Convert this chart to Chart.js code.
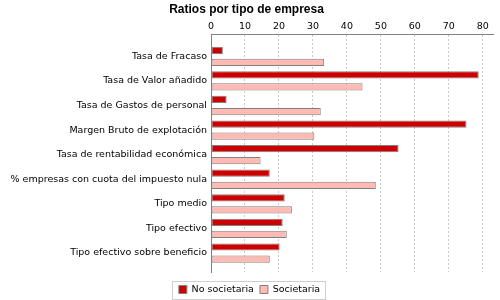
<!DOCTYPE html>
<html>
<head>
<meta charset="utf-8">
<script src="https://cdn.jsdelivr.net/npm/chart.js@4"></script>
<style>
html,body{margin:0;padding:0;background:#fff;}
#wrap{width:500px;height:300px;}
</style>
</head>
<body>
<div id="wrap"><canvas id="c" width="500" height="300"></canvas></div>
<script>
const categories = [
  "Tasa de Fracaso",
  "Tasa de Valor añadido",
  "Tasa de Gastos de personal",
  "Margen Bruto de explotación",
  "Tasa de rentabilidad económica",
  "% empresas con cuota del impuesto nula",
  "Tipo medio",
  "Tipo efectivo",
  "Tipo efectivo sobre beneficio"
];
const noSocietaria = [3.5, 78.8, 4.6, 75.2, 55.2, 17.3, 21.7, 21.1, 20.2];
const societaria   = [33.3, 44.6, 32.3, 30.4, 14.6, 48.5, 23.8, 22.3, 17.3];
const seriesNames = ["No societaria", "Societaria"];
const xTicks = [0, 10, 20, 30, 40, 50, 60, 70, 80];
const titleText = "Ratios por tipo de empresa";

const legendFrame = {
  id: 'legendFrame',
  afterLayout(chart) {
    const lg = chart.legend;
    if (lg) { lg.left += 3; lg.right += 3; }
  },
  afterDraw(chart) {
    const lg = chart.legend;
    if (!lg || !lg.legendHitBoxes || !lg.legendHitBoxes.length) return;
    const hb = lg.legendHitBoxes;
    const first = hb[0], last = hb[hb.length - 1];
    const cy = first.top + first.height / 2;
    const x1 = Math.round(first.left - 7) + 0.5;
    const x2 = Math.round(last.left + last.width + 5) + 0.5;
    const y1 = Math.round(cy - 9) + 0.5;
    const y2 = Math.round(cy + 9) + 0.5;
    const ctx = chart.ctx;
    ctx.save();
    ctx.strokeStyle = '#cfcfcf';
    ctx.lineWidth = 1;
    ctx.strokeRect(x1, y1, x2 - x1, y2 - y1);
    ctx.restore();
  }
};

const ctx = document.getElementById('c').getContext('2d');
new Chart(ctx, {
  type: 'bar',
  data: {
    labels: categories,
    datasets: [
      { label: seriesNames[0], data: noSocietaria, backgroundColor: '#cc0000', borderColor: '#808080', borderWidth: 1, borderSkipped: false },
      { label: seriesNames[1], data: societaria, backgroundColor: '#ffbbb3', borderColor: '#808080', borderWidth: 1, borderSkipped: false }
    ]
  },
  options: {
    indexAxis: 'y',
    responsive: false,
    animation: false,
    devicePixelRatio: 1,
    layout: { padding: { left: 0, right: 7, top: 0, bottom: -4.25 } },
    datasets: { bar: { categoryPercentage: 0.98, barPercentage: 0.6 } },
    scales: {
      x: {
        position: 'top',
        min: 0,
        max: 83,
        afterBuildTicks(scale) {
          scale.ticks = xTicks.map(v => ({ value: v }));
        },
        afterFit(scale) { scale.height = 17.6; },
        ticks: {
          font: { family: 'DejaVu Sans', size: 9.5 },
          color: '#000',
          padding: 2,
          maxRotation: 0
        },
        grid: {
          drawTicks: false,
          color: (c) => (c.tick && c.tick.value === 0) ? 'rgba(0,0,0,0)' : '#c8c8c8',
          lineWidth: 1
        },
        border: { display: true, color: '#808080', width: 1, dash: [2, 2] }
      },
      y: {
        position: 'left',
        afterBuildTicks(scale) {
          scale._startValue = -0.908;
          scale._valueRange = 9.68;
        },
        afterFit(scale) { scale.width = 211; },
        ticks: {
          font: { family: 'DejaVu Sans', size: 9.5 },
          color: '#000',
          padding: 4
        },
        grid: { display: false, drawTicks: false },
        border: { display: true, color: '#808080', width: 1 }
      }
    },
    plugins: {
      title: {
        display: true,
        text: titleText,
        color: '#000',
        font: { family: 'Liberation Sans', size: 12, weight: 'bold', lineHeight: 1.2 },
        padding: { top: 2, bottom: 0 }
      },
      legend: {
        position: 'bottom',
        title: { display: true, text: '', font: { size: 1, lineHeight: 1 }, padding: { top: 0, bottom: 5.75 } },
        labels: {
          font: { family: 'DejaVu Sans', size: 9.5 },
          color: '#000',
          boxWidth: 8,
          boxHeight: 8,
          padding: 6
        }
      },
      tooltip: { enabled: false }
    }
  },
  plugins: [legendFrame]
});
</script>
</body>
</html>
